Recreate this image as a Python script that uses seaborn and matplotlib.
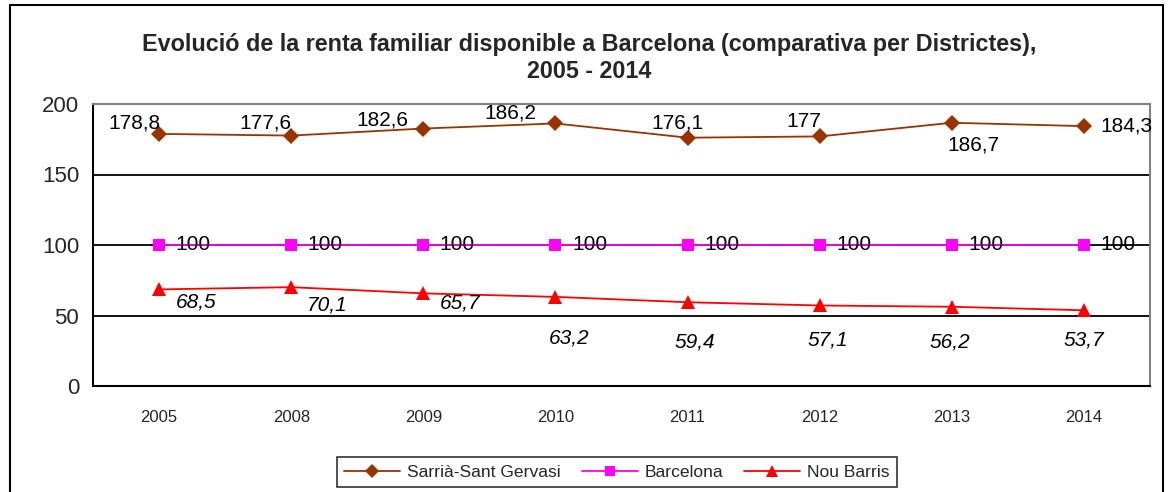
import pandas as pd
import matplotlib.pyplot as plt
import seaborn as sns
from matplotlib.patches import Rectangle
from matplotlib.lines import Line2D

anys = ["2005", "2008", "2009", "2010", "2011", "2012", "2013", "2014"]
sarria = [178.8, 177.6, 182.6, 186.2, 176.1, 177.0, 186.7, 184.3]
barcelona = [100, 100, 100, 100, 100, 100, 100, 100]
nou_barris = [68.5, 70.1, 65.7, 63.2, 59.4, 57.1, 56.2, 53.7]

# label offsets in pixels (dx, dy), placed like in the original sheet
off_sarria = [(-25, 11), (-26, 13), (-41, 9), (-45, 10), (-10, 15), (-16, 15), (22, -22), (43, 0)]
off_bcn = [(34, 0)] * 8
off_nb = [(37, -13), (36, -18), (37, -10), (14, -41), (7, -40), (8, -35), (-2, -35), (0, -30)]

def fmt(v):
    s = f"{v:.1f}".replace(".", ",")
    return s[:-2] if s.endswith(",0") else s

sns.set_style("white")
plt.rcParams["font.family"] = ["Liberation Sans", "DejaVu Sans"]

fig = plt.figure(figsize=(11.72, 4.92), dpi=100)
ax = fig.add_axes([93 / 1172, 1 - 386 / 492, (1150 - 93) / 1172, (386 - 104) / 492])

pos = list(range(len(anys)))
series = [
    ("Sarrià-Sant Gervasi", sarria, "#993300", "D", 8, off_sarria, "normal"),
    ("Barcelona", barcelona, "#FF00FF", "s", 8, off_bcn, "normal"),
    ("Nou Barris", nou_barris, "#FF0000", "^", 10, off_nb, "italic"),
]

for y in [50, 100, 150]:
    ax.axhline(y, color="black", lw=1.3, zorder=1)

handles = []
for nom, vals, col, mk, ms, offs, st in series:
    df = pd.DataFrame({"pos": pos, "valor": vals})
    sns.lineplot(data=df, x="pos", y="valor", ax=ax, color=col, marker=mk,
                 markersize=ms, markeredgewidth=0, linewidth=1.3, zorder=3)
    for x, v, (dx, dy) in zip(pos, vals, offs):
        ax.annotate(fmt(v), (x, v), xytext=(dx, dy), textcoords="offset pixels",
                    ha="center", va="center", fontsize=15, style=st, color="black", zorder=4)
    handles.append(Line2D([0], [0], color=col, marker=mk, markersize=ms - 1,
                          markeredgewidth=0, linewidth=1.3))

ax.set_xlim(-0.5, len(anys) - 0.5)
ax.set_ylim(0, 200)
ax.set_yticks([0, 50, 100, 150, 200])
ax.set_xticks(pos)
ax.set_xticklabels(anys, fontsize=12)
ax.set_xticks([p - 0.5 for p in pos] + [len(anys) - 0.5], minor=True)
ax.tick_params(axis="x", which="major", length=0, pad=17)
ax.tick_params(axis="x", which="minor", length=6, width=1.2, color="black", direction="out")
ax.tick_params(axis="y", length=6, width=1.2, color="black", direction="out", labelsize=16, pad=4)
ax.set_xlabel("")
ax.set_ylabel("")

for side in ["left", "bottom"]:
    ax.spines[side].set_color("black")
    ax.spines[side].set_linewidth(1.5)
for side in ["top", "right"]:
    ax.spines[side].set_color("#808080")
    ax.spines[side].set_linewidth(1.5)

fig.text(589 / 1172, 1 - 44 / 492, "Evolució de la renta familiar disponible a Barcelona (comparativa per Districtes),",
         ha="center", va="center", fontsize=16.8, fontweight="bold")
fig.text(589 / 1172, 1 - 71 / 492, "2005 - 2014", ha="center", va="center", fontsize=16.8, fontweight="bold")

leg = fig.legend(handles, [s[0] for s in series], loc="center", bbox_to_anchor=(617 / 1172, 1 - 472 / 492),
                 ncol=3, frameon=True, fancybox=False, fontsize=12.6, handlelength=3.2,
                 columnspacing=1.2, handletextpad=0.4, borderpad=0.4)
leg.get_frame().set_edgecolor("black")
leg.get_frame().set_linewidth(1.2)

fig.patches.append(Rectangle((10 / 1172, -0.05), 1153 / 1172, 1.05 - 5 / 492, transform=fig.transFigure,
                             fill=False, edgecolor="black", linewidth=1.5))

fig.savefig("out.png", dpi=100)
